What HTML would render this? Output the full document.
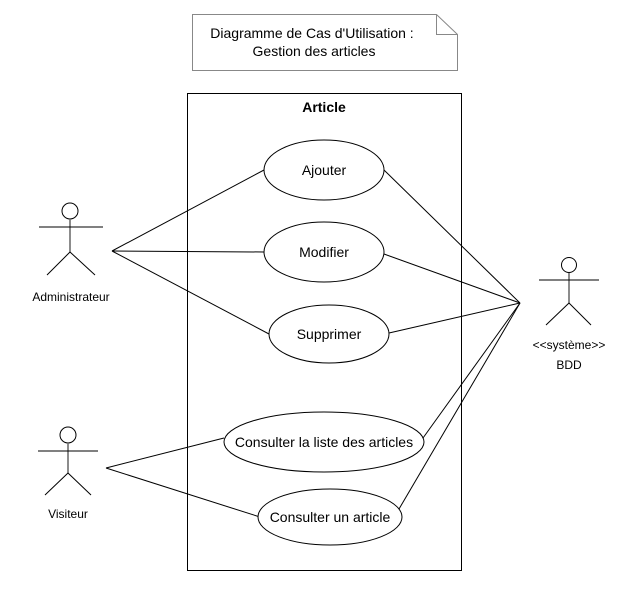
<!DOCTYPE html>
<html><head><meta charset="utf-8"><style>html,body{margin:0;padding:0;background:#fff}svg{display:block}</style></head>
<body>
<svg width="636" height="595" viewBox="0 0 636 595" xmlns="http://www.w3.org/2000/svg" font-family="Liberation Sans, sans-serif">
<rect width="636" height="595" fill="#fff"/>
<path d="M192.5 14.5 H436.5 L457.5 34.5 V70.5 H192.5 Z" fill="#fff" stroke="#888" stroke-width="1"/>
<path d="M436.5 14.5 V34.5 H457.5" fill="none" stroke="#888" stroke-width="1"/>
<text x="312" y="38" font-size="14" text-anchor="middle">Diagramme de Cas d'Utilisation :</text>
<text x="314" y="56" font-size="14" text-anchor="middle">Gestion des articles</text>
<rect x="187.5" y="93.5" width="274" height="477" fill="none" stroke="#000"/>
<text x="324" y="112" font-size="14" font-weight="bold" text-anchor="middle">Article</text>
<g stroke="#000" fill="none" stroke-width="1">
<line x1="112" y1="251" x2="264" y2="170"/>
<line x1="112" y1="251" x2="264" y2="252"/>
<line x1="112" y1="251" x2="269" y2="334"/>
<line x1="106" y1="468" x2="224" y2="438"/>
<line x1="106" y1="468" x2="260" y2="517"/>
<line x1="520" y1="303" x2="384" y2="170"/>
<line x1="520" y1="303" x2="384" y2="254"/>
<line x1="520" y1="303" x2="389" y2="333"/>
<line x1="520" y1="303" x2="423" y2="438"/>
<line x1="520" y1="303" x2="399" y2="509"/>
</g>
<g stroke="#000" fill="#fff">
<ellipse cx="324" cy="170" rx="60" ry="30"/>
<ellipse cx="324" cy="252" rx="60" ry="30"/>
<ellipse cx="329" cy="334" rx="60" ry="29"/>
<ellipse cx="324" cy="442" rx="100" ry="30"/>
<ellipse cx="330" cy="517" rx="72" ry="28"/>
</g>
<g font-size="14" text-anchor="middle">
<text x="324" y="175">Ajouter</text>
<text x="324" y="257">Modifier</text>
<text x="329" y="339">Supprimer</text>
<text x="324" y="447">Consulter la liste des articles</text>
<text x="330" y="522">Consulter un article</text>
</g>
<g stroke="#000" fill="none">
<circle cx="70" cy="211" r="8" fill="#fff"/>
<line x1="70" y1="219" x2="70" y2="252" stroke="#666" stroke-width="1.5"/>
<line x1="39" y1="227" x2="103" y2="227"/>
<line x1="70" y1="252" x2="47" y2="275"/><line x1="70" y1="252" x2="95" y2="275"/>
<circle cx="569" cy="265" r="7.5" fill="#fff"/>
<line x1="569" y1="273" x2="569" y2="303" stroke="#666" stroke-width="1.5"/>
<line x1="539" y1="280" x2="599" y2="280"/>
<line x1="569" y1="303" x2="546" y2="325"/><line x1="569" y1="303" x2="591" y2="325"/>
<circle cx="68" cy="435" r="8" fill="#fff"/>
<line x1="68" y1="443" x2="68" y2="473" stroke="#666" stroke-width="1.5"/>
<line x1="38" y1="451" x2="98" y2="451"/>
<line x1="68" y1="473" x2="45" y2="495"/><line x1="68" y1="473" x2="91" y2="495"/>
</g>
<g font-size="12" text-anchor="middle">
<text x="71" y="301">Administrateur</text>
<text x="569" y="349">&lt;&lt;système&gt;&gt;</text>
<text x="569" y="369">BDD</text>
<text x="68" y="518">Visiteur</text>
</g>
</svg>
</body></html>
